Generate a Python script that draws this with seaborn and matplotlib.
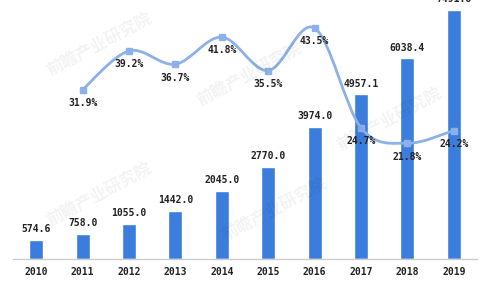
import numpy as np
import pandas as pd
import matplotlib
matplotlib.use("Agg")
import matplotlib.pyplot as plt
from matplotlib.path import Path
from matplotlib.patches import PathPatch
import seaborn as sns

years = ["2010", "2011", "2012", "2013", "2014", "2015", "2016", "2017", "2018", "2019"]
values = [574.6, 758.0, 1055.0, 1442.0, 2045.0, 2770.0, 3974.0, 4957.1, 6038.4, 7491.8]
growth = [None, 31.9, 39.2, 36.7, 41.8, 35.5, 43.5, 24.7, 21.8, 24.2]

sns.set_theme(style="white")
plt.rcParams['font.family'] = ['DejaVu Sans Mono', 'DejaVu Sans']

BAR = "#3b7ddd"
LINE = "#8cb0e8"

fig = plt.figure(figsize=(5, 3), dpi=100)
ax = fig.add_axes([0.026, 0.137, 0.928, 0.863])
df = pd.DataFrame({"year": years, "value": values})
sns.barplot(data=df, x="year", y="value", color=BAR, width=0.3, ax=ax, saturation=1)
ax.set_xlim(-0.5, 9.5)
ax.set_ylim(0, 7792)
for s in ["top", "right", "left"]:
    ax.spines[s].set_visible(False)
ax.spines["bottom"].set_color("#cccccc")
ax.spines["bottom"].set_linewidth(1)
ax.set_yticks([])
ax.set_xlabel("")
ax.set_ylabel("")
ax.tick_params(axis="x", length=0, pad=6)
for lab in ax.get_xticklabels():
    lab.set_fontweight("bold")
    lab.set_fontsize(7)
    lab.set_color("#222222")
for i, v in enumerate(values):
    ax.annotate(f"{v:.1f}", (i, v), xytext=(0, 4), textcoords="offset points",
                ha="center", va="bottom", fontsize=7, fontweight="bold", color="#222222")

# faint watermarks
for (wx, wy) in [(0.2, 0.85), (0.5, 0.75), (0.78, 0.6), (0.2, 0.35), (0.55, 0.3)]:
    fig.text(wx, wy, "前瞻产业研究院", fontsize=12, color="#000000", alpha=0.05,
             rotation=28, family=['Noto Sans CJK SC'], fontweight="bold", ha="center", va="center")

ax2 = ax.twinx()
ax2.set_ylim(0, 48.8)
ax2.set_yticks([])
for s in ax2.spines.values():
    s.set_visible(False)

xs = [i for i, g in enumerate(growth) if g is not None]
ys = [g for g in growth if g is not None]
pts = np.array(list(zip(xs, ys)), dtype=float)
n = len(pts)
verts = [tuple(pts[0])]
codes = [Path.MOVETO]
for i in range(n - 1):
    p0 = pts[i - 1] if i > 0 else pts[i]
    p1 = pts[i]
    p2 = pts[i + 1]
    p3 = pts[i + 2] if i + 2 < n else pts[i + 1]
    c1 = p1 + (p2 - p0) / 6.0
    c2 = p2 - (p3 - p1) / 6.0
    verts += [tuple(c1), tuple(c2), tuple(p2)]
    codes += [Path.CURVE4] * 3
ax2.add_patch(PathPatch(Path(verts, codes), facecolor="none", edgecolor=LINE, lw=2, zorder=3))
ax2.plot(xs, ys, linestyle="none", marker="s", markersize=4, color=LINE, zorder=4)
for x, y in zip(xs, ys):
    ax2.annotate(f"{y:.1f}%", (x, y), xytext=(0, -6), textcoords="offset points",
                 ha="center", va="top", fontsize=7, fontweight="bold", color="#222222", zorder=5)

fig.savefig("out.png", dpi=100)
